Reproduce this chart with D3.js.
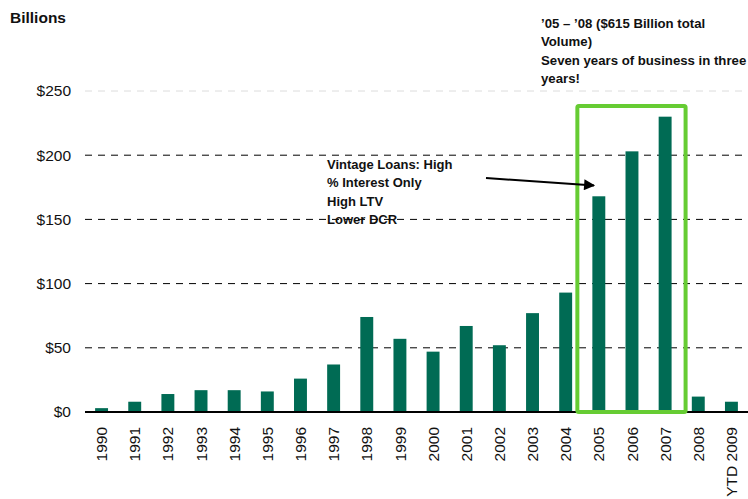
<!DOCTYPE html>
<html><head><meta charset="utf-8">
<script src="https://cdn.jsdelivr.net/npm/d3@7"></script>
<style>body{margin:0;background:#fff;}svg{display:block;font-family:"Liberation Sans",Arial,sans-serif;}</style>
</head><body>
<svg id="c" width="748" height="499"></svg>
<script>
const categories = ["1990","1991","1992","1993","1994","1995","1996","1997","1998","1999","2000","2001","2002","2003","2004","2005","2006","2007","2008","YTD 2009"];
const volumes = [3, 8, 14, 17, 17, 16, 26, 37, 74, 57, 47, 67, 52, 77, 93, 168, 203, 230, 12, 8];
const yTicks = [0, 50, 100, 150, 200, 250];
const highlighted = ["2005","2006","2007"];
const vintageNote = ["Vintage Loans: High", "% Interest Only", "High LTV", "Lower DCR"];
const boomNote = ["\u201905 \u2013 \u201908 ($615 Billion total", "Volume)", "Seven years of business in three", "years!"];

const svg = d3.select("#c");
const margin = {left:85, right:0, top:91, bottom:87};
const W = 748, H = 499;
const x = d3.scaleBand().domain(categories).range([margin.left, W - margin.right]).paddingInner(0.61).paddingOuter(0.305);
const y = d3.scaleLinear().domain([0, 250]).range([412, 91]);

// gridlines
svg.append("g").selectAll("line").data(yTicks.filter(d => d > 0)).join("line")
  .attr("x1", margin.left).attr("x2", W)
  .attr("y1", d => y(d)).attr("y2", d => y(d))
  .attr("stroke", d => d === 250 ? "#dcdcdc" : "#000")
  .attr("stroke-width", 1)
  .attr("stroke-dasharray", "7,6");

// y axis labels
const yAxis = d3.axisLeft(y).tickValues(yTicks).tickFormat(d => "$" + d).tickSize(0).tickPadding(14);
const ya = svg.append("g").attr("transform", `translate(${margin.left},0)`).call(yAxis);
ya.select(".domain").remove();
ya.selectAll("text").attr("font-size", 15.5).attr("fill", "#111").attr("font-family", "Liberation Sans, Arial, sans-serif");

// bars
svg.append("g").selectAll("rect").data(categories).join("rect")
  .attr("x", d => x(d)).attr("width", x.bandwidth())
  .attr("y", (d, i) => y(volumes[i])).attr("height", (d, i) => y(0) - y(volumes[i]))
  .attr("fill", "#006b54");

// x axis
const xAxis = d3.axisBottom(x).tickSize(0).tickPadding(0);
const xa = svg.append("g").attr("transform", `translate(0,${y(0)})`).call(xAxis);
xa.select(".domain").attr("stroke", "#000").attr("stroke-width", 2).attr("d", `M${margin.left},0H${W}`);
xa.selectAll("text")
  .attr("font-size", 15.5).attr("fill", "#111").attr("font-family", "Liberation Sans, Arial, sans-serif")
  .attr("transform", "rotate(-90)")
  .attr("text-anchor", "end").attr("x", -15).attr("y", 0).attr("dy", "0.36em");

// highlight box
const bx0 = x(highlighted[0]) - 15;
const bx1 = x(highlighted[2]) + x.bandwidth() + 14;
svg.append("rect").attr("x", bx0).attr("y", 106).attr("width", bx1 - bx0).attr("height", y(0) - 106)
  .attr("fill", "none").attr("stroke", "#66cc33").attr("stroke-width", 4).attr("rx", 1.5);

// arrow
const defs = svg.append("defs");
defs.append("marker").attr("id", "ah").attr("viewBox", "0 0 10 10").attr("refX", 9).attr("refY", 5)
  .attr("markerWidth", 6.5).attr("markerHeight", 5.5).attr("orient", "auto").attr("markerUnits", "strokeWidth")
  .append("path").attr("d", "M0,0L10,5L0,10Z").attr("fill", "#000");
svg.append("line").attr("x1", 486).attr("y1", 178).attr("x2", 594).attr("y2", 185.5)
  .attr("stroke", "#000").attr("stroke-width", 2).attr("marker-end", "url(#ah)");

// annotations
svg.append("text").attr("x", 10).attr("y", 23).attr("font-size", 15.5).attr("font-weight", "bold").attr("fill", "#111").text("Billions");

svg.append("g").selectAll("text").data(vintageNote).join("text")
  .attr("x", 327).attr("y", (d, i) => 169 + i * 18.3)
  .attr("font-size", 13).attr("font-weight", "bold").attr("fill", "#111").text(d => d);

svg.append("g").selectAll("text").data(boomNote).join("text")
  .attr("x", 541).attr("y", (d, i) => 28 + i * 18.3)
  .attr("font-size", 13.2).attr("font-weight", "bold").attr("fill", "#111").text(d => d);
</script>
</body></html>
